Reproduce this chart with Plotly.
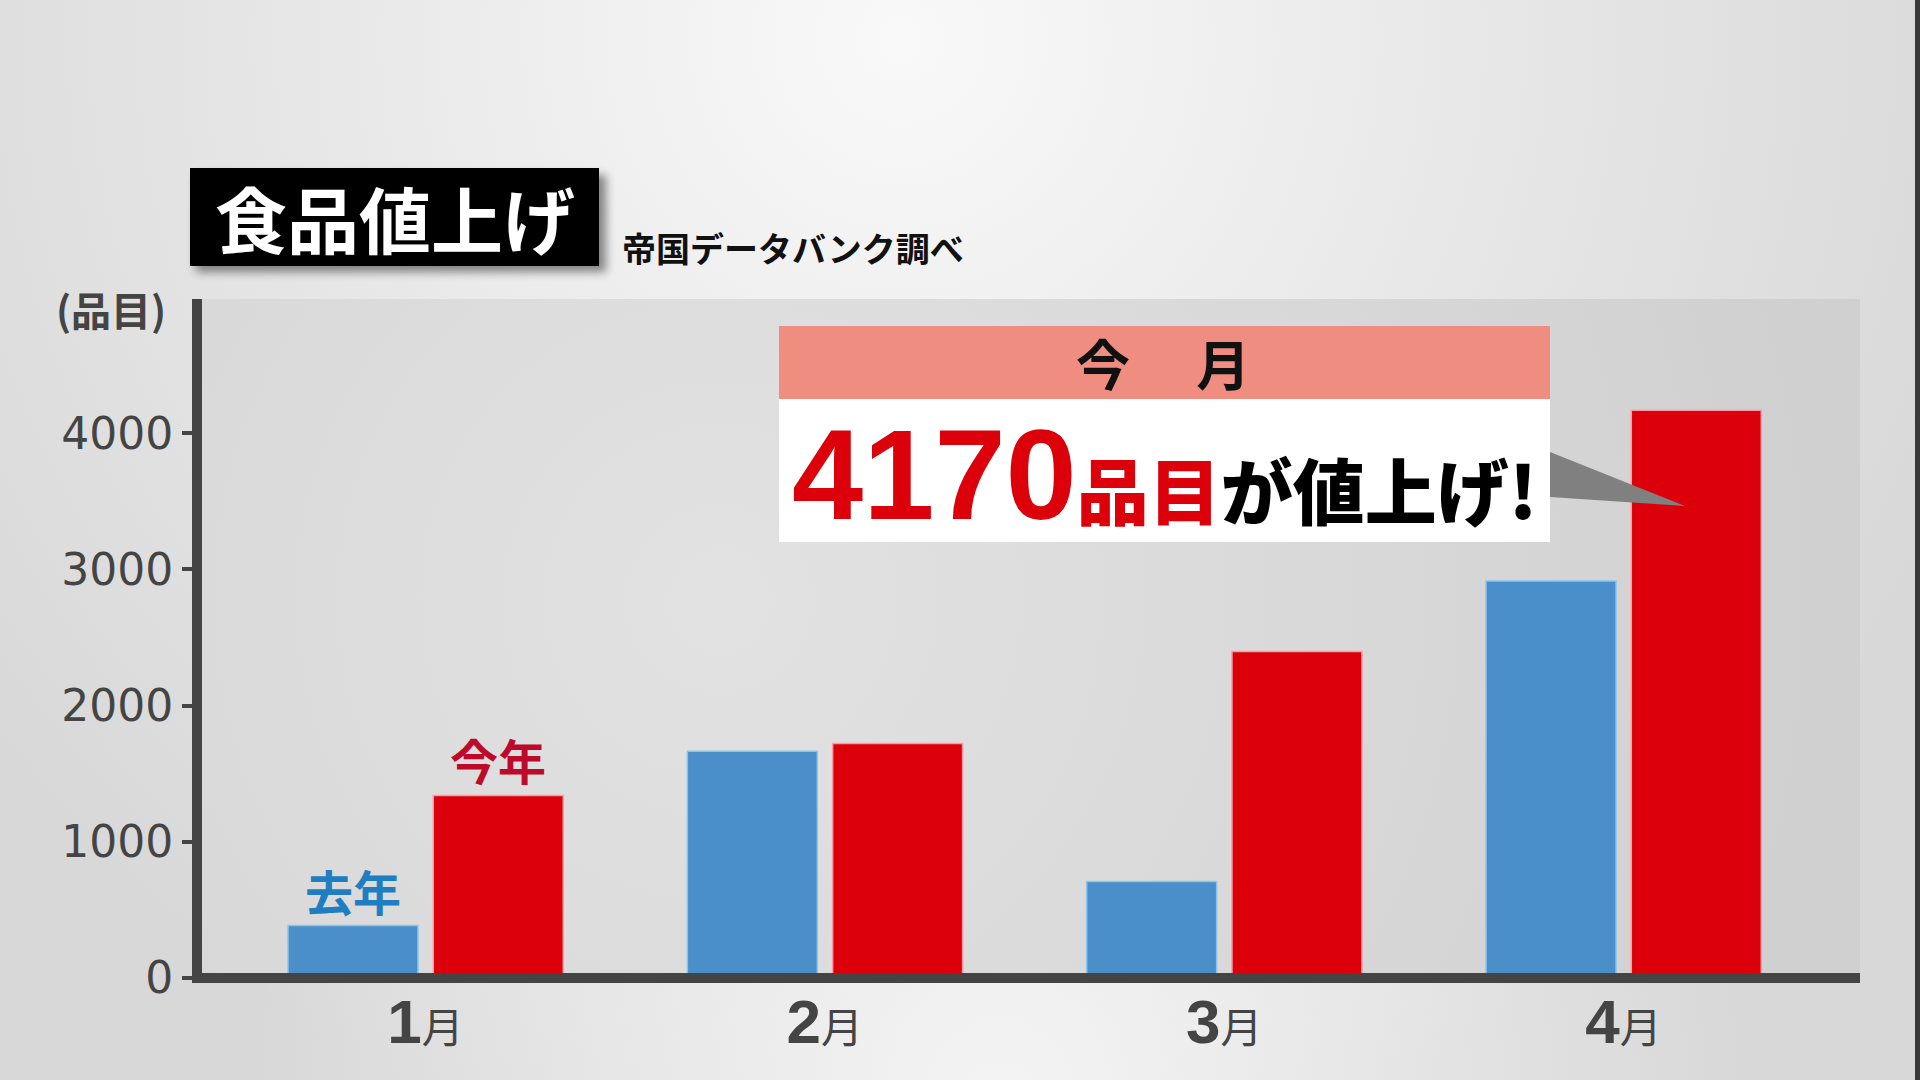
import base64
import plotly.graph_objects as go

# ---------------- data ----------------
months = ["1月", "2月", "3月", "4月"]
last_year = [385, 1665, 709, 2916]      # 去年
this_year = [1341, 1722, 2397, 4170]    # 今年
y_ticks = [0, 1000, 2000, 3000, 4000]
y_tick_labels = ["0", "1000", "2000", "3000", "4000"]
title_text = "食品値上げ"
source_text = "帝国データバンク調べ"
unit_text = "(品目)"
callout_head = "今　 月"
callout_number = "4170"

# ---------------- geometry helpers (pixel -> paper) ----------------
W, H = 1920, 1080
L, R, T, B = 202, 60, 299, 97
PW, PH = W - L - R, H - T - B


def px(x):
    return (x - L) / PW


def py(y):
    return (H - B - y) / PH


# ---------------- background (decorative gradient as svg image) ----------------
svg = f'''<svg xmlns="http://www.w3.org/2000/svg" width="{W}" height="{H}" viewBox="0 0 {W} {H}">
<defs>
<radialGradient id="g1" cx="900" cy="40" r="1150" gradientUnits="userSpaceOnUse">
<stop offset="0" stop-color="#f9f9f9"/><stop offset="0.55" stop-color="#e6e6e6"/><stop offset="1" stop-color="#d8d8d8"/></radialGradient>
<radialGradient id="g2" cx="1000" cy="1100" r="750" gradientUnits="userSpaceOnUse">
<stop offset="0" stop-color="#f4f4f4" stop-opacity="1"/><stop offset="1" stop-color="#f4f4f4" stop-opacity="0"/></radialGradient>
<radialGradient id="g3" cx="720" cy="600" r="1100" gradientUnits="userSpaceOnUse">
<stop offset="0" stop-color="#e2e2e2"/><stop offset="0.6" stop-color="#d8d8d8"/><stop offset="1" stop-color="#d0d0d0"/></radialGradient>
<filter id="sh" x="-20%" y="-40%" width="140%" height="180%"><feGaussianBlur stdDeviation="5"/></filter>
</defs>
<rect width="{W}" height="{H}" fill="url(#g1)"/>
<rect width="{W}" height="{H}" fill="url(#g2)"/>
<rect x="{L}" y="{T}" width="{PW}" height="{PH - 5}" fill="url(#g3)"/>
<rect x="196" y="175" width="410" height="97" fill="#000" opacity="0.45" filter="url(#sh)"/>
</svg>'''
bg_uri = "data:image/svg+xml;base64," + base64.b64encode(svg.encode("utf-8")).decode("ascii")

# ---------------- bars ----------------
BLUE = "#4A8FCA"
RED = "#DC000A"
fig = go.Figure()
fig.add_trace(go.Bar(
    x=months, y=last_year, name="去年",
    width=0.3255, offset=-0.3443,
    marker=dict(color=BLUE, line=dict(color="#8EC3EE", width=1.5)),
    hoverinfo="skip",
))
fig.add_trace(go.Bar(
    x=months, y=this_year, name="今年",
    width=0.3255, offset=0.0195,
    marker=dict(color=RED, line=dict(color="#FF9AA2", width=1.5)),
    hoverinfo="skip",
))

CJK = "Noto Sans CJK JP"
NUM = "Liberation Sans Narrow, Liberation Sans, Arial, sans-serif"

tick_text = [
    f"<span style='font-family:{NUM};font-weight:bold;font-size:62px'>{m[:-1]}</span>"
    f"<span style='font-family:{CJK};font-size:42px'>{m[-1]}</span>"
    for m in months
]

shapes = [
    # title box
    dict(type="rect", xref="paper", yref="paper", x0=px(190), x1=px(599), y0=py(266), y1=py(168),
         fillcolor="#000000", line=dict(width=0), layer="above"),
    # callout header
    dict(type="rect", xref="paper", yref="paper", x0=px(779), x1=px(1550), y0=py(399), y1=py(326),
         fillcolor="#EF8E80", line=dict(width=0), layer="above"),
    # callout body
    dict(type="rect", xref="paper", yref="paper", x0=px(779), x1=px(1550), y0=py(542), y1=py(399),
         fillcolor="#FFFFFF", line=dict(width=0), layer="above"),
    # pointer
    dict(type="path", xref="paper", yref="paper",
         path=f"M {px(1550)},{py(452)} L {px(1685)},{py(506)} L {px(1550)},{py(497)} Z",
         fillcolor="#808080", line=dict(width=0), layer="above"),
    # right frame edge
    dict(type="rect", xref="paper", yref="paper", x0=px(1915), x1=px(1922), y0=py(1082), y1=py(-2),
         fillcolor="#3a3a3a", line=dict(width=0), layer="above"),
]

annotations = [
    dict(text=title_text, xref="paper", yref="paper", x=px(394.5), y=py(217),
         xanchor="center", yanchor="middle", showarrow=False,
         font=dict(family=CJK, size=72, color="#FFFFFF", weight=700)),
    dict(text=source_text, xref="paper", yref="paper", x=px(620), y=py(247),
         xanchor="left", yanchor="middle", showarrow=False,
         font=dict(family=CJK, size=34, color="#111111", weight=700)),
    dict(text=unit_text, xref="paper", yref="paper", x=px(111), y=py(309),
         xanchor="center", yanchor="middle", showarrow=False,
         font=dict(family=CJK, size=40, color="#444444", weight=700)),
    dict(text=callout_head, xref="paper", yref="paper", x=px(1163), y=py(362),
         xanchor="center", yanchor="middle", showarrow=False,
         font=dict(family=CJK, size=54, color="#111111", weight=700)),
    dict(text=(f"<span style='font-family:{NUM};font-size:128px;color:{RED};font-weight:bold'>{callout_number}</span>"
               f"<span style='color:{RED}'>品目</span>が値上げ!"),
         xref="paper", yref="paper", x=px(1164), y=py(474),
         xanchor="center", yanchor="middle", showarrow=False,
         font=dict(family=CJK, size=72, color="#000000", weight=900)),
    dict(text="去年", x=months[0], y=last_year[0], xref="x", yref="y",
         xshift=-72.7, yshift=-1, xanchor="center", yanchor="bottom", showarrow=False,
         font=dict(family=CJK, size=48, color="#1F7EC2", weight=700)),
    dict(text="今年", x=months[0], y=this_year[0], xref="x", yref="y",
         xshift=72.8, yshift=-1, xanchor="center", yanchor="bottom", showarrow=False,
         font=dict(family=CJK, size=48, color="#BE0A2A", weight=700)),
]

ymin, ymax = -36.72, 4986.2

fig.update_layout(
    width=W, height=H,
    margin=dict(l=L, r=R, t=T, b=B, pad=0),
    paper_bgcolor="#e2e2e2",
    plot_bgcolor="rgba(0,0,0,0)",
    barmode="overlay",
    showlegend=False,
    shapes=shapes,
    annotations=annotations,
    images=[dict(source=bg_uri, xref="paper", yref="paper",
                 x=px(0), y=py(0), sizex=W / PW, sizey=H / PH,
                 xanchor="left", yanchor="top", sizing="stretch", layer="below")],
    xaxis=dict(
        type="category", categoryorder="array", categoryarray=months,
        range=[-0.5597, 3.5922], showline=False, showgrid=False, zeroline=False,
        ticks="", tickmode="array", tickvals=months, ticktext=tick_text,
        tickfont=dict(family=CJK, size=42, color="#444444"),
        ticklabelstandoff=17, fixedrange=True,
    ),
    yaxis=dict(
        range=[ymin, ymax], showgrid=False,
        showline=True, linewidth=10, linecolor="#444444",
        zeroline=True, zerolinewidth=10, zerolinecolor="#444444",
        ticks="outside", ticklen=10, tickwidth=4, tickcolor="#444444",
        tickmode="array", tickvals=y_ticks, ticktext=y_tick_labels,
        tickfont=dict(family="DejaVu Sans", size=44, color="#444444"),
        fixedrange=True,
    ),
)
try:
    fig.update_yaxes(zerolinelayer="above traces")
except Exception:
    pass

fig.write_html(
    "out.html",
    config={"displayModeBar": False},
    post_script="document.body.style.margin='0';document.body.style.overflow='hidden';",
)
